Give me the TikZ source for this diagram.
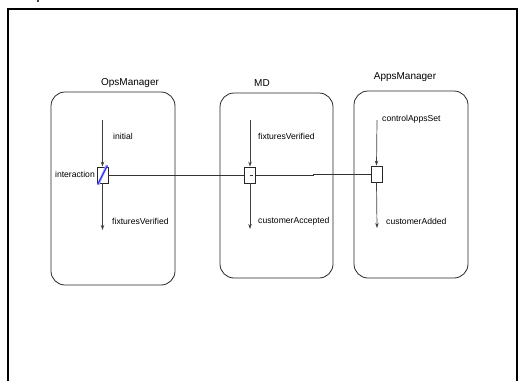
\documentclass[tikz,border=0pt]{standalone}
\usepackage{fontspec}
\setmainfont{Liberation Sans}
\usetikzlibrary{arrows.meta}
\begin{document}
\begin{tikzpicture}[x=1pt,y=-1pt,
  lane/.style={draw=black!85,line width=0.8pt,rounded corners=14pt},
  title/.style={font=\fontsize{10}{11}\selectfont,inner sep=0pt},
  lbl/.style={font=\fontsize{8.6}{10}\selectfont,inner sep=0pt,anchor=west},
  port/.style={draw=black!85,fill=white,line width=0.8pt,minimum width=11pt,minimum height=16pt,inner sep=0pt},
  flow/.style={draw=black!75,line width=0.7pt,-{Stealth[length=5pt,width=3.5pt]}},
  wire/.style={draw=black!80,line width=0.8pt}]
\useasboundingbox (0,0) rectangle (522,381);
% frame
\draw[line width=1.6pt] (8,381) -- (8,9) -- (517,9) -- (517,381);
\fill (38,1) circle (1.2pt);
% lanes
\draw[lane] (51,92) rectangle (175,285);
\draw[lane] (220,93) rectangle (333,278);
\draw[lane] (354,91) rectangle (468,278);
\node[title] (tops) at (130,83) {OpsManager};
\node[title] (tmd) at (262,83) {MD};
\node[title] (tapps) at (405,77) {AppsManager};
% ports
\node[port] (p1) at (102.5,175) {};
\draw[blue!35,line width=2.4pt] ([shift={(1.5pt,-1.5pt)}]p1.south west) -- ([shift={(-1.5pt,1.5pt)}]p1.north east);
\draw[blue!85,line width=1pt] ([shift={(1pt,-1pt)}]p1.south west) -- ([shift={(-1pt,1pt)}]p1.north east);
\node[port] (p2) at (250,175) {};
\draw[wire] (p2.center) -- ++(3,0);
\node[port] (p3) at (376.5,174) {};
% arrow starts/ends
\coordinate (s1) at (102.5,120);
\coordinate (e1) at (102.5,230);
\coordinate (s2) at (250,120);
\coordinate (e2) at (250,229);
\coordinate (s3) at (377,120);
\coordinate (e3) at (377,228);
\draw[flow] (s1) -- (p1.north);
\draw[flow] (p1.south) -- (e1);
\draw[flow] (s2) -- (p2.north);
\draw[flow] (p2.south) -- (e2);
\draw[flow] (s3) -- (p3.north);
\draw[flow] (p3.south) -- (e3);
% wires
\coordinate (k1) at (313,175);
\coordinate (k2) at (313,174);
\draw[wire] (p1.east) -- (p2.west);
\draw[wire] (p2.east) -- (k1) -- (k2) -- (p3.west);
% labels
\node[lbl] (l1) at (113,136) {initial};
\node[lbl] (l2) at (112,221) {fixturesVerified};
\node[lbl,anchor=east] (l3) at (95,174) {interaction};
\node[lbl] (l4) at (258,136) {fixturesVerified};
\node[lbl] (l5) at (258,221) {customerAccepted};
\node[lbl] (l6) at (382,119) {controlAppsSet};
\node[lbl] (l7) at (386,221) {customerAdded};
\end{tikzpicture}
\end{document}
